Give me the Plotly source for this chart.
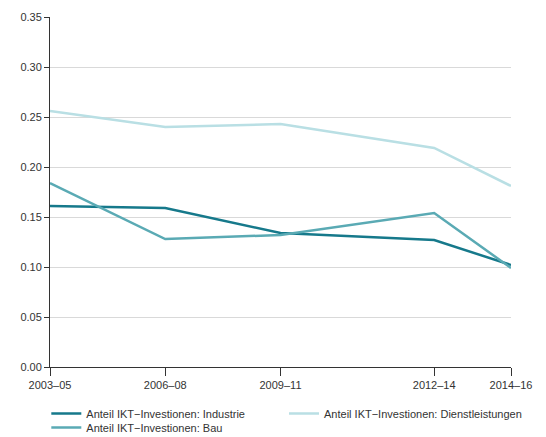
import plotly.graph_objects as go

periods = ["2003–05", "2006–08", "2009–11", "2012–14", "2014–16"]
x_pos = [0, 3, 6, 10, 12]
industrie = [0.161, 0.159, 0.134, 0.127, 0.102]
bau = [0.184, 0.128, 0.132, 0.154, 0.099]
dienst = [0.256, 0.240, 0.243, 0.219, 0.181]

names = ["Anteil IKT−Investionen: Industrie",
         "Anteil IKT−Investionen: Bau",
         "Anteil IKT−Investionen: Dienstleistungen"]
colors = ["#16798b", "#5aaab4", "#b9dfe4"]
legend_ids = ["legend", "legend3", "legend2"]

fig = go.Figure()
for ys, nm, c, lg in zip([industrie, bau, dienst], names, colors, legend_ids):
    fig.add_trace(go.Scatter(x=x_pos, y=ys, mode="lines", name=nm,
                             line=dict(color=c, width=2.5), legend=lg))

leg_common = dict(orientation="h", xanchor="left", yanchor="top",
                  font=dict(size=11, color="#333333"), itemwidth=30,
                  bgcolor="rgba(0,0,0,0)")

fig.update_layout(
    width=538, height=429,
    margin=dict(l=42, r=35, t=9, b=70, autoexpand=False),
    paper_bgcolor="white", plot_bgcolor="white",
    font=dict(family="Liberation Sans, Arial, sans-serif", size=11, color="#333333"),
    showlegend=True,
    legend=dict(x=-0.008, y=-0.0914, **leg_common),
    legend2=dict(x=0.5076, y=-0.0914, **leg_common),
    legend3=dict(x=-0.008, y=-0.1314, **leg_common),
    xaxis=dict(range=[0, 12], tickvals=x_pos, ticktext=periods, automargin=False,
               showgrid=False, showline=True, linecolor="#333333", linewidth=1,
               ticks="outside", ticklen=8, tickcolor="#333333", zeroline=False,
               tickfont=dict(size=11, color="#333333")),
    yaxis=dict(range=[0, 0.35], tickvals=[0, 0.05, 0.1, 0.15, 0.2, 0.25, 0.3, 0.35],
               tickformat=".2f", showgrid=True, gridcolor="#d9d9d9", gridwidth=1,
               automargin=False,
               showline=True, linecolor="#333333", linewidth=1,
               ticks="outside", ticklen=5, tickcolor="#333333", zeroline=False,
               tickfont=dict(size=11, color="#333333")),
)

fig.write_html("out.html")
